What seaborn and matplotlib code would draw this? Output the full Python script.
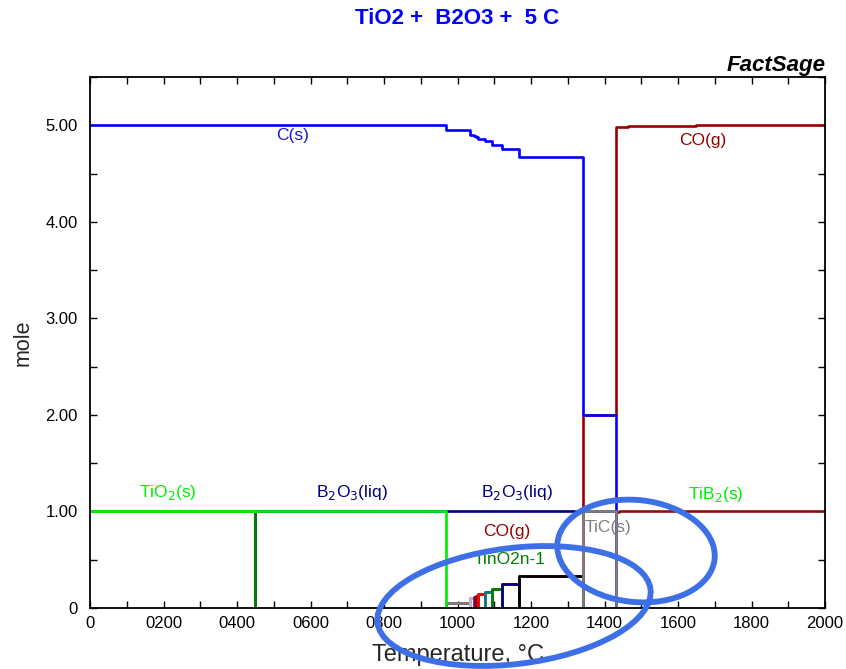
import numpy as np
import pandas as pd
import matplotlib
matplotlib.use("Agg")
import matplotlib.pyplot as plt
from matplotlib.patches import Ellipse
from matplotlib.ticker import FuncFormatter, MultipleLocator
import seaborn as sns

# ---- equilibrium amounts (mol) vs temperature (°C), as step functions ----
# Each species: breakpoints in T and the amount held from each breakpoint to the next.
T_C = [0, 968, 1034, 1044, 1050, 1055, 1074, 1095, 1121, 1166, 1341, 1430]
n_C = [5.00, 4.95, 4.90, 4.889, 4.875, 4.857, 4.833, 4.80, 4.75, 4.667, 2.00]

T_CO = [968, 1034, 1044, 1050, 1055, 1074, 1095, 1121, 1166, 1341, 1430, 1465, 1650, 2000]
n_CO = [0.05, 0.10, 0.111, 0.125, 0.143, 0.167, 0.20, 0.25, 0.333, 2.00, 4.98, 4.99, 5.00]

T_TiO2 = [0, 968]
n_TiO2 = [1.00]

T_B2O3_s = [0, 450]
n_B2O3_s = [1.00]

T_B2O3_liq = [450, 1430]
n_B2O3_liq = [1.00]

T_TiC = [1341, 1430]
n_TiC = [1.00]

T_TiB2 = [1430, 1440, 2000]
n_TiB2 = [0.99, 1.00]

# Magneli phases Ti(n)O(2n-1): start T, end T, amount
magneli_names = ["Ti20O39", "Ti10O19", "Ti9O17", "Ti8O15", "Ti7O13",
                 "Ti6O11", "Ti5O9", "Ti4O7", "Ti3O5"]
magneli_start = [968, 1034, 1044, 1050, 1055, 1074, 1095, 1121, 1166]
magneli_end = [1034, 1044, 1050, 1055, 1074, 1095, 1121, 1166, 1341]
magneli_amount = [0.05, 0.10, 0.111, 0.125, 0.143, 0.167, 0.20, 0.25, 0.333]
magneli_colors = ["#808080", "#c0c0c0", "#800080", "#800000", "#ff0000",
                  "#008080", "#008000", "#000080", "#000000"]

x_ticks = [0, 200, 400, 600, 800, 1000, 1200, 1400, 1600, 1800, 2000]
y_ticks = [0, 1, 2, 3, 4, 5]


def step_frame(edges, values, rise=False, drop=False):
    """Build a step outline from breakpoints; optionally rise from / drop to zero."""
    xs, ys = [], []
    if rise:
        xs.append(edges[0]); ys.append(0.0)
    for i, v in enumerate(values):
        xs += [edges[i], edges[i + 1]]
        ys += [v, v]
    if drop:
        xs.append(edges[-1]); ys.append(0.0)
    return pd.DataFrame({"T": xs, "n": ys})


sns.set_style("ticks")
plt.rcParams["font.family"] = ["Liberation Sans", "DejaVu Sans"]

fig = plt.figure(figsize=(8.46, 6.69), dpi=100)
ax = fig.add_axes([90 / 846, 1 - 608 / 669, 735 / 846, 531 / 669])

LW = 1.9


def draw(df, color, lw=LW):
    sns.lineplot(data=df, x="T", y="n", sort=False, estimator=None,
                 color=color, lw=lw, ax=ax, legend=False)


# drawing order: later series sit on top
draw(step_frame(T_B2O3_liq, n_B2O3_liq, rise=True, drop=True), "#000080")
draw(step_frame(T_B2O3_s, n_B2O3_s, drop=True), "#008000")
draw(step_frame(T_CO, n_CO, rise=True), "#990000")
draw(step_frame(T_TiB2, n_TiB2), "#8b1010")
draw(step_frame(T_C, n_C, drop=True), "#0000ff")
for t0, t1, a, c in zip(magneli_start, magneli_end, magneli_amount, magneli_colors):
    draw(step_frame([t0, t1], [a], rise=True, drop=True), c)
draw(step_frame(T_TiO2, n_TiO2, drop=True), "#00ee00")
draw(step_frame(T_TiC, n_TiC, rise=True, drop=True), "#808080")

ax.set_xlim(0, 2000)
ax.set_ylim(0, 5.5)
ax.set_xticks(x_ticks)
ax.set_yticks(y_ticks)
ax.xaxis.set_minor_locator(MultipleLocator(100))
ax.yaxis.set_minor_locator(MultipleLocator(0.5))
ax.xaxis.set_major_formatter(FuncFormatter(lambda v, p: "0" if v == 0 else f"{int(v):04d}"))
ax.yaxis.set_major_formatter(FuncFormatter(lambda v, p: "0" if v == 0 else f"{v:.2f}"))
ax.tick_params(which="both", direction="in", top=True, right=True,
               length=5, width=1, labelsize=12, colors="black")
ax.tick_params(axis="x", pad=6)
ax.tick_params(axis="y", pad=9)
for s in ax.spines.values():
    s.set_linewidth(1.3)
    s.set_color("black")

ax.set_xlabel("Temperature, °C", fontsize=17, labelpad=9)
ax.set_ylabel("mole", fontsize=15.5, labelpad=8)

# species labels
lab = dict(ha="center", va="center", fontsize=12.5)
ax.text(550, 4.89, "C(s)", color="#1a1acc", **lab)
ax.text(1668, 4.84, "CO(g)", color="#990000", **lab)
ax.text(212, 1.20, "TiO$_2$(s)", color="#00ee00", **lab)
ax.text(713, 1.20, "B$_2$O$_3$(liq)", color="#000080", **lab)
ax.text(1162, 1.20, "B$_2$O$_3$(liq)", color="#000080", **lab)
ax.text(1135, 0.79, "CO(g)", color="#990000", **lab)
ax.text(1409, 0.83, "TiC(s)", color="#808080", **lab)
ax.text(1143, 0.50, "TinO2n-1", color="#008000", **lab)
ax.text(1703, 1.18, "TiB$_2$(s)", color="#00ee00", **lab)

fig.text(457 / 846, 1 - 19 / 669, "TiO2 +  B2O3 +  5 C", color="#0000ff",
         fontsize=16, fontweight="bold", ha="center", va="center")
fig.text(826 / 846, 1 - 65 / 669, "FactSage", color="black",
         fontsize=16, fontweight="bold", fontstyle="italic", ha="right", va="center")

# highlight rings
ring = dict(fill=False, edgecolor="#3d6fe6", lw=4.2, transform=fig.dpi_scale_trans,
            clip_on=False)
fig.patches.append(Ellipse((5.14, (669 - 606) / 100), 2.75, 1.16, angle=7, **ring))
fig.patches.append(Ellipse((6.36, (669 - 551) / 100), 1.58, 1.02, angle=-6, **ring))

fig.savefig("out.png", dpi=100)
